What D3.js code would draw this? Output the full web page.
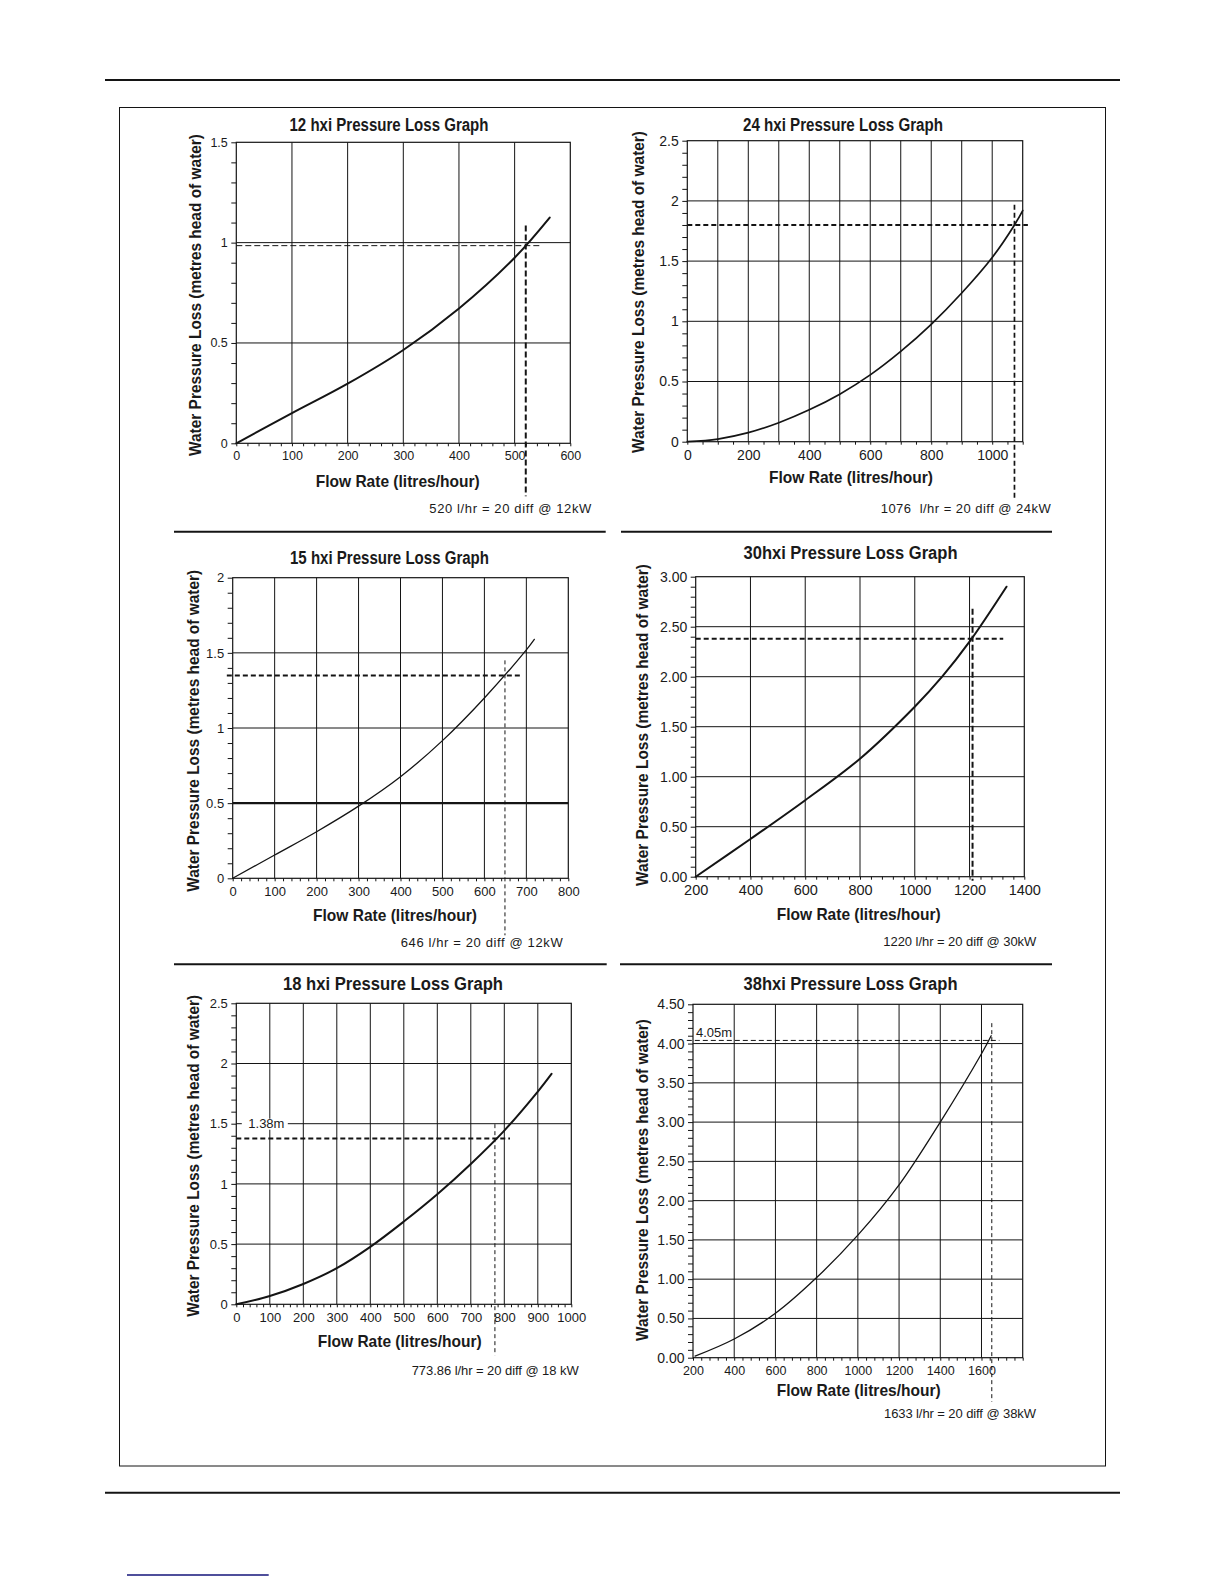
<!DOCTYPE html>
<html><head><meta charset="utf-8">
<script src="https://cdn.jsdelivr.net/npm/d3@7"></script>
<style>
body{margin:0;background:#fff;}
svg{display:block;}
.title,.alabel{font-family:"Liberation Sans","Arial",sans-serif;font-weight:bold;fill:#1a1a1a;}
.note,.mark,.tick text{font-family:"Liberation Sans",Arial,Helvetica,sans-serif;fill:#1a1a1a;font-size:13px;}
</style></head><body>
<svg id="c" width="1224" height="1584"></svg>
<script>
// ---------- DATA ----------
const titles = ["12 hxi Pressure Loss Graph","24 hxi Pressure Loss Graph","15 hxi Pressure Loss Graph",
                "30hxi Pressure Loss Graph","18 hxi Pressure Loss Graph","38hxi Pressure Loss Graph"];
const xAxisTitle = "Flow Rate (litres/hour)";
const yAxisTitle = "Water Pressure Loss (metres head of water)";

// curves (flow l/hr, loss m head)
const flow12 = [0,100,200,300,400,500,563];
const loss12 = [0,0.15,0.297,0.465,0.672,0.925,1.125];
const flow24 = [0,100,200,300,400,500,600,700,800,900,1000,1073,1100];
const loss24 = [0,0.022,0.075,0.158,0.265,0.395,0.555,0.75,0.975,1.235,1.53,1.8,1.92];
const flow15 = [0,100,200,300,400,500,600,700,719];
const loss15 = [0,0.155,0.31,0.48,0.676,0.916,1.2,1.52,1.59];
const flow30 = [200,400,600,800,1000,1100,1200,1335];
const loss30 = [0,0.377,0.765,1.18,1.70,2.0,2.35,2.9];
const flow18 = [0,100,200,300,400,500,600,700,800,900,941];
const loss18 = [0,0.069,0.169,0.30,0.477,0.687,0.914,1.166,1.443,1.767,1.914];
const flow38 = [210,400,600,800,1000,1200,1400,1600,1647];
const loss38 = [0.02,0.238,0.565,1.02,1.56,2.2,3.0,3.87,4.1];

// axes
const xDomains = [[0,600],[0,1100],[0,800],[200,1400],[0,1000],[200,1800]];
const yDomains = [[0,1.5],[0,2.5],[0,2],[0,3],[0,2.5],[0,4.5]];
const xTickLabels12 = [0,100,200,300,400,500,600];
const xTickLabels24 = [0,200,400,600,800,1000];
const xTickLabels15 = [0,100,200,300,400,500,600,700,800];
const xTickLabels30 = [200,400,600,800,1000,1200,1400];
const xTickLabels18 = [0,100,200,300,400,500,600,700,800,900,1000];
const xTickLabels38 = [200,400,600,800,1000,1200,1400,1600];
const xGridStep = [100,100,100,200,100,200];
const xMinorStep = [20,50,20,40,20,40];
const yTickLabels12 = ["0","0.5","1","1.5"];
const yTickLabels24 = ["0","0.5","1","1.5","2","2.5"];
const yTickLabels15 = ["0","0.5","1","1.5","2"];
const yTickLabels30 = ["0.00","0.50","1.00","1.50","2.00","2.50","3.00"];
const yTickLabels18 = ["0","0.5","1","1.5","2","2.5"];
const yTickLabels38 = ["0.00","0.50","1.00","1.50","2.00","2.50","3.00","3.50","4.00","4.50"];

// design-point reference lines
const refFlow = [520,1073,649,1211,772,1650];
const refLoss = [0.985,1.8,1.35,2.38,1.377,4.04];
const refHStart = [0,0,-14,200,0,170];
const refHEnd = [545,1117,691,1323,817,1687];
const refVTop = [1.086,1.967,1.45,2.68,1.496,4.26];
const refNotes = ["520 l/hr = 20 diff @ 12kW","1076  l/hr = 20 diff @ 24kW","646 l/hr = 20 diff @ 12kW",
                  "1220 l/hr = 20 diff @ 30kW","773.86 l/hr = 20 diff @ 18 kW","1633 l/hr = 20 diff @ 38kW"];
const refMarks = ["","","","","1.38m","4.05m"];

// ---------- LAYOUT ----------
const curves = [[flow12,loss12],[flow24,loss24],[flow15,loss15],[flow30,loss30],[flow18,loss18],[flow38,loss38]];
const xLabs = [xTickLabels12,xTickLabels24,xTickLabels15,xTickLabels30,xTickLabels18,xTickLabels38];
const yLabs = [yTickLabels12,yTickLabels24,yTickLabels15,yTickLabels30,yTickLabels18,yTickLabels38];
const layout = [
 {x0:236.3,x1:570.3,y0:142.3,y1:443.3, t:[389,130.7,199], xl:[397.7,486.7], yl:[195,295], n:[429.3,512.7,162], vExt:53, cw:2, xfs:12.5, yfs:12.5},
 {x0:687.3,x1:1022.7,y0:140.7,y1:441.7, t:[843,130.7,200], xl:[851,483.3], yl:[638.3,292], n:[880.7,512.7,170], vExt:56, cw:1.7, xfs:14, yfs:14},
 {x0:232.7,x1:568.3,y0:577.7,y1:878.3, t:[389.5,564.3,199], xl:[395,920.7], yl:[193.3,730.8], n:[400.7,947,162], vExt:57, cw:1.3, xfs:13, yfs:13},
 {x0:695.7,x1:1024.3,y0:576.7,y1:876.7, t:[850.5,559.3,214], xl:[858.7,920], yl:[641.7,725], n:[883.3,946,153], vExt:4, cw:2, xfs:14.5, yfs:14},
 {x0:236.3,x1:571.3,y0:1003.3,y1:1304.3, t:[393,990,220], xl:[399.7,1346.7], yl:[193.3,1155.8], n:[411.7,1375,167], vExt:51, cw:2, xfs:13, yfs:13},
 {x0:693,x1:1022.7,y0:1004.3,y1:1357.7, t:[850.5,990,214], xl:[858.7,1395.7], yl:[642.3,1180], n:[884,1417.7,152], vExt:44, cw:1.3, xfs:12.5, yfs:14}
];
const hStyle = [{w:1,d:"6,3"},{w:2,d:"5,3"},{w:2,d:"5,3"},{w:2,d:"5,3"},{w:2,d:"5,3"},{w:1,d:"5,3"}];
const vStyle = [{w:2,d:"6,3"},{w:1.7,d:"5,3"},{w:1,d:"4,3"},{w:2,d:"6,3"},{w:1,d:"4,3"},{w:1,d:"4,3"}];

const svg = d3.select("#c");
const ink = "#141414";

// page furniture
svg.append("line").attr("x1",105).attr("x2",1120).attr("y1",80).attr("y2",80).attr("stroke",ink).attr("stroke-width",2);
svg.append("rect").attr("x",119.5).attr("y",107.5).attr("width",986).attr("height",1358.5).attr("fill","none").attr("stroke",ink).attr("stroke-width",1);
[[174,605.7,531.7],[621,1052,531.7],[174,606.7,964.3],[620,1052,964.3]].forEach(s=>{
  svg.append("line").attr("x1",s[0]).attr("x2",s[1]).attr("y1",s[2]).attr("y2",s[2]).attr("stroke",ink).attr("stroke-width",2);
});
svg.append("line").attr("x1",105).attr("x2",1120).attr("y1",1492.7).attr("y2",1492.7).attr("stroke",ink).attr("stroke-width",2);
svg.append("line").attr("x1",127).attr("x2",268.7).attr("y1",1575).attr("y2",1575).attr("stroke","#15157a").attr("stroke-width",1.4);

function styleAxis(s, fs){
  s.select(".domain").remove();
  s.attr("font-family",null).attr("font-size",null);
  s.selectAll(".tick line").attr("stroke",ink);
  s.selectAll(".tick text").attr("fill","#1a1a1a")
    .style("font-family",'"Liberation Sans",Arial,Helvetica,sans-serif').style("font-size",(fs||13)+"px");
}

layout.forEach((L,i)=>{
  const x = d3.scaleLinear().domain(xDomains[i]).range([L.x0,L.x1]);
  const y = d3.scaleLinear().domain(yDomains[i]).range([L.y1,L.y0]);
  const g = svg.append("g");
  const [xa,xb] = xDomains[i], [ya,yb] = yDomains[i];
  const xGrid = d3.range(xa+xGridStep[i], xb-1e-9, xGridStep[i]);
  const yGrid = d3.range(ya+0.5, yb-1e-9, 0.5);
  const xMinor = d3.range(xa, xb+1e-9, xMinorStep[i]);
  const yMinor = d3.range(0, 10*yb+0.5, 1).map(v=>v/10);

  // grid
  g.append("g").selectAll("line").data(xGrid).join("line")
    .attr("x1",d=>x(d)).attr("x2",d=>x(d)).attr("y1",L.y0).attr("y2",L.y1)
    .attr("stroke",ink).attr("stroke-width",1);
  g.append("g").selectAll("line").data(yGrid).join("line")
    .attr("x1",L.x0).attr("x2",L.x1).attr("y1",d=>y(d)).attr("y2",d=>y(d))
    .attr("stroke",ink).attr("stroke-width",d=>(i===2 && d===0.5)?2.3:1);

  // minor / major ticks
  g.append("g").attr("transform",`translate(0,${L.y1})`)
    .call(d3.axisBottom(x).tickValues(xMinor).tickSize(3).tickFormat(""))
    .call(s=>styleAxis(s));
  g.append("g").attr("transform",`translate(${L.x0},0)`)
    .call(d3.axisLeft(y).tickValues(yMinor).tickSize(5).tickFormat(""))
    .call(s=>styleAxis(s));
  // tick labels
  g.append("g").attr("transform",`translate(0,${L.y1})`)
    .call(d3.axisBottom(x).tickValues(xLabs[i]).tickSize(0).tickPadding(8).tickFormat(d3.format("d")))
    .call(s=>styleAxis(s,L.xfs));
  g.append("g").attr("transform",`translate(${L.x0},0)`)
    .call(d3.axisLeft(y).tickValues(yLabs[i].map(Number)).tickSize(0).tickPadding(8.5)
      .tickFormat((d,k)=>yLabs[i][k]))
    .call(s=>styleAxis(s,L.yfs));

  // frame
  g.append("rect").attr("x",L.x0).attr("y",L.y0).attr("width",L.x1-L.x0).attr("height",L.y1-L.y0)
    .attr("fill","none").attr("stroke",ink).attr("stroke-width",1.2);

  // reference dashed lines
  g.append("line").attr("x1",x(refHStart[i])).attr("x2",x(refHEnd[i])).attr("y1",y(refLoss[i])).attr("y2",y(refLoss[i]))
    .attr("stroke",ink).attr("stroke-width",hStyle[i].w).attr("stroke-dasharray",hStyle[i].d);
  g.append("line").attr("x1",x(refFlow[i])).attr("x2",x(refFlow[i])).attr("y1",y(refVTop[i])).attr("y2",L.y1+L.vExt)
    .attr("stroke",ink).attr("stroke-width",vStyle[i].w).attr("stroke-dasharray",vStyle[i].d);

  // curve
  const [fx,fy] = curves[i];
  const line = d3.line().x((d,k)=>x(fx[k])).y(d=>y(d)).curve(d3.curveCatmullRom.alpha(0.5));
  g.append("path").attr("d",line(fy)).attr("fill","none").attr("stroke",ink).attr("stroke-width",L.cw)
    .attr("stroke-linecap","round");

  // mark labels
  if(refMarks[i]){
    if(i===4){
      const yy = y(1.5);
      g.append("rect").attr("x",L.x0+5.5).attr("y",yy-5).attr("width",46).attr("height",11).attr("fill","#fff");
      g.append("text").attr("class","mark").attr("x",L.x0+12).attr("y",yy+4.6).text(refMarks[i]);
    } else {
      g.append("text").attr("class","mark").attr("x",L.x0+3).attr("y",y(refLoss[i])-3.7).text(refMarks[i]);
    }
  }

  // texts
  g.append("text").attr("class","title").attr("x",L.t[0]).attr("y",L.t[1]).attr("text-anchor","middle")
    .attr("font-size",17.5).attr("textLength",L.t[2]).attr("lengthAdjust","spacingAndGlyphs").text(titles[i]);
  g.append("text").attr("class","alabel").attr("x",L.xl[0]).attr("y",L.xl[1]).attr("text-anchor","middle")
    .attr("font-size",16.5).attr("textLength",164).attr("lengthAdjust","spacingAndGlyphs").text(xAxisTitle);
  g.append("text").attr("class","alabel").attr("transform",`translate(${L.yl[0]+6},${L.yl[1]}) rotate(-90)`)
    .attr("text-anchor","middle").attr("font-size",16.5).attr("textLength",322).attr("lengthAdjust","spacingAndGlyphs").text(yAxisTitle);
  g.append("text").attr("class","note").attr("x",L.n[0]).attr("y",L.n[1])
    .attr("textLength",L.n[2]).attr("lengthAdjust","spacing").style("white-space","pre").text(refNotes[i]);
});
</script>
</body></html>
